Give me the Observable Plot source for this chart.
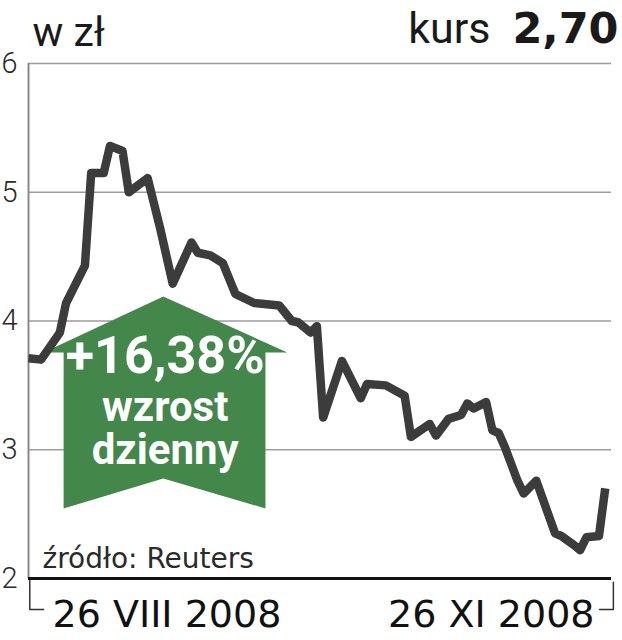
<!DOCTYPE html>
<html>
<head>
<meta charset="utf-8">
<script src="https://cdn.jsdelivr.net/npm/d3@7"></script>
<script src="https://cdn.jsdelivr.net/npm/@observablehq/plot@0.6"></script>
<style>
  html, body { margin: 0; padding: 0; background: #fff; }
  #chart svg { display: block; font-family: Roboto, "Liberation Sans", sans-serif; }
</style>
</head>
<body>
<div id="chart"></div>
<script>
// ---- data ----
const dates = [
  "2008-08-26","2008-08-28","2008-08-31","2008-09-01","2008-09-04","2008-09-05",
  "2008-09-07","2008-09-08","2008-09-10","2008-09-11","2008-09-14","2008-09-16",
  "2008-09-18","2008-09-21","2008-09-22","2008-09-24","2008-09-26","2008-09-28",
  "2008-10-01","2008-10-05","2008-10-07","2008-10-08","2008-10-10","2008-10-11",
  "2008-10-12","2008-10-15","2008-10-18","2008-10-19","2008-10-22","2008-10-25",
  "2008-10-26","2008-10-29","2008-10-30","2008-11-01","2008-11-03","2008-11-04",
  "2008-11-05","2008-11-07","2008-11-08","2008-11-09","2008-11-10","2008-11-12",
  "2008-11-13","2008-11-15","2008-11-18","2008-11-19","2008-11-21","2008-11-22",
  "2008-11-23","2008-11-25","2008-11-26"
];
const prices = [
  3.71, 3.70, 3.91, 4.14, 4.43, 5.15,
  5.15, 5.36, 5.32, 5.00, 5.11, 4.72,
  4.29, 4.61, 4.53, 4.51, 4.45, 4.21,
  4.14, 4.12, 4.00, 3.99, 3.91, 3.96,
  3.25, 3.69, 3.40, 3.51, 3.50, 3.42,
  3.10, 3.20, 3.11, 3.24, 3.27, 3.36,
  3.32, 3.37, 3.15, 3.13, 3.02, 2.76,
  2.66, 2.76, 2.35, 2.33, 2.26, 2.22,
  2.32, 2.33, 2.70
];
const yTicks = [2, 3, 4, 5, 6];
const gridValues = [3, 4, 5, 6];
const startLabel = "26 VIII 2008";
const endLabel = "26 XI 2008";
const unitLabel = "w zł";
const rateLabel = "kurs";
const rateValue = "2,70";
const sourceLabel = "źródło: Reuters";
const arrowLabels = ["+16,38%", "wzrost", "dzienny"];
// arrow annotation outline (days after 26 VIII, price level)
const arrowDays   = [5.6, 5.6, 2.4, 21.5, 41.3, 37.8, 37.8, 21.5];
const arrowLevels = [2.544, 3.755, 3.755, 4.19, 3.755, 3.755, 2.544, 2.777];
const labelLevels = [3.595, 3.227, 2.893];

// ---- build ----
const DAY = 864e5;
const t0 = new Date("2008-08-26");
const t1 = new Date("2008-11-27");
const series = dates.map((d, i) => ({date: new Date(d), value: prices[i]}));
const arrow = arrowDays.map((d, i) => ({date: new Date(+t0 + d * DAY), value: arrowLevels[i]}));
const apex = new Date(+t0 + 21.8 * DAY);
const bracketL = [
  {date: new Date(+t0 + 0.2 * DAY), value: 1.985},
  {date: new Date(+t0 + 0.2 * DAY), value: 1.76},
  {date: new Date(+t0 + 2.4 * DAY), value: 1.76}
];
const bracketR = [
  {date: new Date(+t0 + 93.3 * DAY), value: 1.97},
  {date: new Date(+t0 + 93.3 * DAY), value: 1.76},
  {date: new Date(+t0 + 91.1 * DAY), value: 1.76}
];

const chart = Plot.plot({
  width: 622,
  height: 640,
  marginLeft: 28,
  marginRight: 11,
  marginTop: 63,
  marginBottom: 62,
  x: {type: "utc", domain: [t0, t1], axis: null},
  y: {domain: [2, 6], axis: null},
  marks: [
    Plot.ruleY(gridValues, {stroke: "#9d9d9d", strokeWidth: 1.6}),
    Plot.ruleX([t0], {stroke: "#8a8a8a", strokeWidth: 2}),
    Plot.axisY({ticks: yTicks, label: null, tickSize: 0, tickPadding: 11, fontSize: 29, fontWeight: 300, fill: "#2a2a2a", tickFormat: d => String(d)}),
    Plot.line(arrow, {x: "date", y: "value", fill: "#43874b", stroke: "none", curve: "linear-closed"}),
    Plot.text([arrowLabels[0]], {x: () => apex, y: () => labelLevels[0], text: d => d, fill: "white", fontSize: 52, fontWeight: 700, lineAnchor: "bottom"}),
    Plot.text([arrowLabels[1]], {x: () => apex, y: () => labelLevels[1], text: d => d, fill: "white", fontSize: 42, fontWeight: 700, lineAnchor: "bottom"}),
    Plot.text([arrowLabels[2]], {x: () => apex, y: () => labelLevels[2], text: d => d, fill: "white", fontSize: 42, fontWeight: 700, lineAnchor: "bottom"}),
    Plot.line(series, {x: "date", y: "value", stroke: "#3c3c3c", strokeWidth: 8.5, strokeLinejoin: "round", strokeLinecap: "butt"}),
    Plot.ruleY([2], {stroke: "#111", strokeWidth: 3}),
    Plot.line(bracketL, {x: "date", y: "value", stroke: "#333", strokeWidth: 1.5}),
    Plot.line(bracketR, {x: "date", y: "value", stroke: "#333", strokeWidth: 1.5}),
    Plot.text([startLabel], {frameAnchor: "bottom-left", text: d => d, dx: 24, dy: 48, textAnchor: "start", lineAnchor: "bottom", fontSize: 38, fontWeight: 400, fontFamily: "DejaVu Sans", fill: "#111"}),
    Plot.text([endLabel], {frameAnchor: "bottom-right", text: d => d, dx: -17, dy: 48, textAnchor: "end", lineAnchor: "bottom", fontSize: 38, fontWeight: 400, fontFamily: "DejaVu Sans", fill: "#111"}),
    Plot.text([sourceLabel], {frameAnchor: "bottom-left", text: d => d, dx: 14, dy: -11, textAnchor: "start", lineAnchor: "bottom", fontSize: 28, fontWeight: 400, fontFamily: "DejaVu Sans", fill: "#2a2a2a"}),
    Plot.text([unitLabel], {frameAnchor: "top-left", text: d => d, dx: 4, dy: -18, textAnchor: "start", lineAnchor: "bottom", fontSize: 41, fontWeight: 400, fill: "#1a1a1a"}),
    Plot.text([rateValue], {frameAnchor: "top-right", text: d => d, dx: 7, dy: -21, textAnchor: "end", lineAnchor: "bottom", fontSize: 43, fontWeight: 700, fontFamily: "DejaVu Sans", fill: "#1a1a1a"}),
    Plot.text([rateLabel], {frameAnchor: "top-right", text: d => d, dx: -121, dy: -21, textAnchor: "end", lineAnchor: "bottom", fontSize: 43, fontWeight: 400, fill: "#1a1a1a"})
  ]
});
document.getElementById("chart").appendChild(chart);
</script>
</body>
</html>
